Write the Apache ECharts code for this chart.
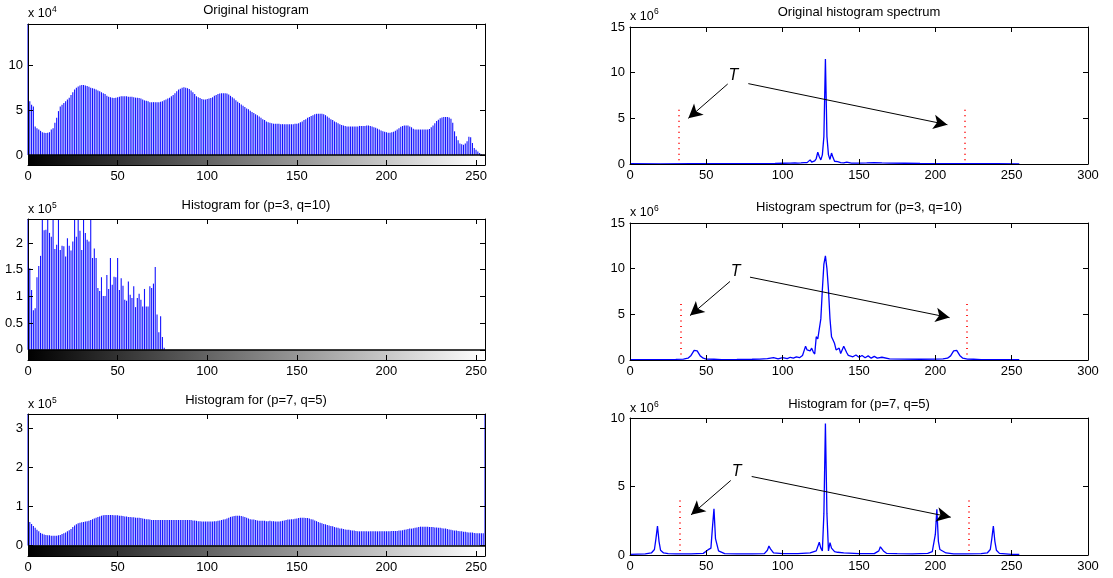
<!DOCTYPE html>
<html>
<head>
<meta charset="utf-8">
<title>Histograms and spectra</title>
<script src="https://cdn.jsdelivr.net/npm/echarts@6/dist/echarts.min.js"></script>
<style>
  html, body { margin: 0; padding: 0; background: #fff; }
  #chart { width: 1113px; height: 578px; }
</style>
</head>
<body>
<div id="chart"></div>
<script>
// ---- tick labels ----
var histXTicks = [0, 50, 100, 150, 200, 250];
var specXTicks = [0, 50, 100, 150, 200, 250, 300];
var hist1YTicks = [0, 5, 10];
var hist2YTicks = [0, 0.5, 1, 1.5, 2];
var hist3YTicks = [0, 1, 2, 3];
var spec1YTicks = [0, 5, 10, 15];
var spec2YTicks = [0, 5, 10, 15];
var spec3YTicks = [0, 5, 10];

// ---- histogram counts, one value per grey level (x 10^4) ----
var hist1 = [
  15, 6.0, 5.6, 5.4, 3.2, 3.0, 2.85, 2.7, 2.55, 2.5, 2.45, 2.5, 2.55, 2.85, 3.0, 3.6,
  4.15, 4.9, 5.4, 5.6, 5.8, 6.0, 6.2, 6.4, 6.7, 7.0, 7.3, 7.5, 7.65, 7.75, 7.8, 7.8,
  7.75, 7.7, 7.6, 7.5, 7.45, 7.4, 7.3, 7.2, 7.1, 7.0, 6.9, 6.8, 6.6, 6.5, 6.45, 6.4,
  6.35, 6.4, 6.45, 6.5, 6.55, 6.55, 6.55, 6.55, 6.5, 6.5, 6.5, 6.45, 6.4, 6.4, 6.35, 6.3,
  6.2, 6.1, 6.05, 6.0, 5.9, 5.9, 5.9, 5.9, 5.9, 5.9, 5.95, 6.0, 6.1, 6.2, 6.3, 6.4,
  6.55, 6.7, 6.9, 7.1, 7.3, 7.4, 7.5, 7.55, 7.5, 7.45, 7.35, 7.2, 7.0, 6.8, 6.55, 6.45,
  6.35, 6.25, 6.2, 6.2, 6.25, 6.3, 6.35, 6.45, 6.6, 6.7, 6.8, 6.85, 6.9, 6.9, 6.9, 6.85,
  6.75, 6.6, 6.45, 6.3, 6.1, 5.95, 5.8, 5.65, 5.5, 5.35, 5.2, 5.1, 4.95, 4.8, 4.7, 4.55,
  4.45, 4.3, 4.15, 4.0, 3.9, 3.75, 3.65, 3.6, 3.55, 3.5, 3.5, 3.5, 3.5, 3.45, 3.45, 3.45,
  3.45, 3.45, 3.45, 3.45, 3.45, 3.5, 3.5, 3.55, 3.65, 3.75, 3.9, 4.0, 4.15, 4.25, 4.35, 4.45,
  4.55, 4.6, 4.6, 4.6, 4.6, 4.55, 4.45, 4.3, 4.15, 4.0, 3.9, 3.75, 3.65, 3.55, 3.45, 3.35,
  3.3, 3.25, 3.2, 3.2, 3.2, 3.2, 3.2, 3.2, 3.2, 3.25, 3.25, 3.25, 3.25, 3.3, 3.3, 3.25,
  3.2, 3.1, 3.05, 2.95, 2.85, 2.75, 2.65, 2.6, 2.55, 2.5, 2.5, 2.55, 2.6, 2.7, 2.85, 3.0,
  3.15, 3.25, 3.3, 3.3, 3.3, 3.2, 3.1, 2.95, 2.85, 2.85, 2.85, 2.85, 2.85, 2.85, 2.85, 2.85,
  2.9, 3.1, 3.3, 3.55, 3.8, 3.95, 4.1, 4.2, 4.25, 4.25, 4.25, 4.2, 4.05, 3.6, 2.65, 2.1,
  1.65, 1.3, 1.2, 1.15, 1.3, 1.55, 2.05, 2.0, 1.35, 0.8, 0.6, 0.4, 0.25, 0.1, 0.05, 0
];
// (p=3, q=10), x 10^5, grey levels 0..76 (the rest are empty)
var hist2 = [
  2.6, 1.53, 1.12, 0.74, 0.78, 1.36, 1.57, 1.76, 2.6, 2.24, 2.25, 2.6, 2.19, 2.12, 2.6, 1.89,
  1.97, 2.6, 1.87, 1.95, 1.94, 1.75, 2.09, 1.95, 1.86, 2.03, 2.6, 2.12, 2.6, 2.23, 1.87, 2.6,
  2.19, 2.06, 2.03, 2.6, 1.72, 1.9, 1.72, 1.16, 1.1, 1.36, 1.01, 1.01, 1.4, 1.14, 1.72, 1.22,
  1.37, 1.36, 1.72, 1.12, 1.34, 1.2, 0.94, 0.92, 1.28, 1.03, 0.97, 1.19, 0.8, 0.97, 1.05, 0.94,
  0.81, 1.14, 0.81, 0.81, 1.19, 1.16, 1.24, 1.55, 0.66, 0.33, 0.63, 0.24, 0.04
];
// (p=7, q=5), x 10^5
var hist3 = [
  3.4, 0.6, 0.55, 0.5, 0.45, 0.4, 0.36, 0.32, 0.3, 0.28, 0.27, 0.26, 0.26, 0.25, 0.25, 0.25,
  0.25, 0.26, 0.27, 0.29, 0.31, 0.33, 0.36, 0.39, 0.42, 0.47, 0.51, 0.54, 0.57, 0.58, 0.59, 0.6,
  0.61, 0.62, 0.63, 0.65, 0.67, 0.69, 0.71, 0.73, 0.74, 0.76, 0.77, 0.78, 0.78, 0.78, 0.78, 0.78,
  0.77, 0.77, 0.77, 0.76, 0.76, 0.75, 0.74, 0.74, 0.73, 0.73, 0.72, 0.72, 0.71, 0.71, 0.71, 0.7,
  0.69, 0.68, 0.67, 0.67, 0.66, 0.65, 0.65, 0.65, 0.65, 0.65, 0.65, 0.65, 0.65, 0.65, 0.65, 0.65,
  0.65, 0.65, 0.65, 0.65, 0.65, 0.65, 0.65, 0.65, 0.65, 0.65, 0.65, 0.65, 0.64, 0.64, 0.63, 0.62,
  0.62, 0.61, 0.61, 0.61, 0.61, 0.61, 0.61, 0.61, 0.62, 0.62, 0.63, 0.64, 0.65, 0.66, 0.67, 0.69,
  0.71, 0.73, 0.74, 0.75, 0.76, 0.76, 0.76, 0.75, 0.74, 0.73, 0.71, 0.69, 0.67, 0.66, 0.66, 0.65,
  0.64, 0.63, 0.63, 0.63, 0.63, 0.62, 0.62, 0.63, 0.62, 0.62, 0.61, 0.61, 0.61, 0.62, 0.63, 0.64,
  0.65, 0.66, 0.66, 0.67, 0.67, 0.68, 0.69, 0.7, 0.71, 0.71, 0.71, 0.7, 0.7, 0.69, 0.67, 0.66,
  0.64, 0.62, 0.6, 0.58, 0.57, 0.55, 0.54, 0.52, 0.51, 0.5, 0.49, 0.47, 0.46, 0.45, 0.43, 0.43,
  0.42, 0.41, 0.4, 0.4, 0.39, 0.38, 0.38, 0.37, 0.36, 0.36, 0.36, 0.36, 0.36, 0.36, 0.36, 0.36,
  0.36, 0.36, 0.36, 0.36, 0.36, 0.36, 0.36, 0.36, 0.36, 0.36, 0.36, 0.37, 0.37, 0.37, 0.37, 0.38,
  0.38, 0.39, 0.4, 0.41, 0.42, 0.43, 0.43, 0.44, 0.45, 0.46, 0.47, 0.48, 0.48, 0.48, 0.48, 0.48,
  0.47, 0.47, 0.47, 0.46, 0.46, 0.45, 0.45, 0.44, 0.43, 0.43, 0.42, 0.41, 0.4, 0.39, 0.38, 0.38,
  0.37, 0.36, 0.36, 0.35, 0.35, 0.34, 0.33, 0.33, 0.33, 0.32, 0.31, 0.31, 0.31, 0.31, 0.31, 3.4
];

// ---- spectra, [frequency, magnitude x 10^6] ----
var spec1 = [
  [0, 0.03], [20, 0.02], [40, 0.03], [60, 0.03], [80, 0.05], [95, 0.06], [100, 0.08], [105, 0.1],
  [108, 0.12], [110, 0.1], [112, 0.12], [114, 0.15], [115, 0.25], [116, 0.15], [117, 0.2], [118, 0.45],
  [119, 0.2], [120, 0.25], [121, 0.35], [122, 0.6], [123, 1.3], [124, 0.8], [125, 0.45], [126, 1.0],
  [127, 3.0], [128, 11.5], [129, 3.0], [130, 1.0], [131, 0.5], [132, 1.2], [133, 0.7], [134, 0.3],
  [135, 0.2], [136, 0.25], [137, 0.35], [138, 0.15], [140, 0.12], [142, 0.2], [145, 0.1], [150, 0.1],
  [155, 0.12], [160, 0.15], [165, 0.12], [170, 0.1], [180, 0.08], [190, 0.06], [200, 0.05], [220, 0.04],
  [240, 0.03], [255, 0.02]
];
var spec2 = [
  [0, 0.05], [10, 0.04], [20, 0.05], [30, 0.06], [35, 0.1], [38, 0.2], [40, 0.5], [42, 1.05],
  [43, 1.17], [44, 1.0], [46, 0.45], [48, 0.2], [50, 0.1], [55, 0.08], [60, 0.05], [70, 0.06],
  [80, 0.08], [85, 0.1], [90, 0.15], [94, 0.25], [97, 0.12], [100, 0.25], [103, 0.15], [105, 0.3],
  [107, 0.2], [109, 0.35], [111, 0.25], [113, 0.5], [114, 1.0], [115, 1.5], [116, 1.1], [117, 0.9],
  [118, 1.0], [119, 1.3], [120, 0.9], [121, 0.65], [122, 2.55], [123, 2.3], [124, 2.4], [125, 4.5],
  [126, 7.7], [127, 10.5], [128, 11.4], [129, 10.0], [130, 7.7], [131, 4.5], [132, 2.55], [133, 2.2],
  [134, 1.8], [135, 1.1], [136, 1.0], [137, 1.3], [138, 0.7], [139, 0.9], [140, 1.5], [141, 1.3],
  [142, 0.8], [143, 0.5], [144, 0.4], [146, 0.35], [148, 0.55], [150, 0.3], [152, 0.5], [154, 0.25],
  [156, 0.45], [158, 0.2], [160, 0.4], [162, 0.2], [165, 0.3], [170, 0.12], [180, 0.1], [190, 0.08],
  [200, 0.1], [205, 0.12], [208, 0.2], [210, 0.45], [212, 1.0], [213, 1.17], [214, 1.05], [216, 0.5],
  [218, 0.2], [221, 0.1], [225, 0.08], [230, 0.05], [240, 0.05], [255, 0.04]
];
var spec3 = [
  [0, 0.05], [10, 0.08], [14, 0.15], [16, 0.4], [17, 1.2], [18, 2.12], [19, 1.0], [20, 0.35],
  [22, 0.15], [25, 0.1], [30, 0.08], [40, 0.08], [48, 0.12], [51, 0.37], [53, 0.5], [54, 2.0],
  [55, 3.37], [56, 1.2], [58, 0.3], [62, 0.1], [70, 0.08], [80, 0.08], [88, 0.1], [90, 0.35],
  [91, 0.66], [92, 0.45], [94, 0.15], [100, 0.1], [110, 0.1], [118, 0.15], [122, 0.3], [124, 0.93],
  [125, 0.5], [126, 0.3], [127, 3.0], [128, 9.6], [129, 3.0], [130, 0.3], [131, 0.9], [132, 0.5],
  [134, 0.25], [136, 0.2], [140, 0.15], [150, 0.1], [160, 0.1], [163, 0.3], [164, 0.6], [165, 0.66],
  [166, 0.3], [168, 0.12], [175, 0.1], [185, 0.08], [195, 0.12], [198, 0.25], [199, 0.3], [200, 1.5],
  [201, 3.34], [202, 1.0], [203, 0.4], [204, 0.35], [207, 0.15], [212, 0.08], [220, 0.08], [230, 0.1],
  [234, 0.15], [236, 0.4], [237, 1.2], [238, 2.12], [239, 1.0], [240, 0.35], [242, 0.12], [250, 0.05],
  [255, 0.04]
];

// ---- threshold T and its annotation (data units of each spectrum) ----
var thrLeft = [32, 33.4, 32.8];
var thrRight = [219.5, 220.6, 221.7];
var thrTop = [6.4, 6.2, 4.2];
var thrBottom = [0.4, 0.6, 0.3];
var tLabel = [[67.7, 9.67], [69.2, 9.7], [69.9, 6.09]];
var arrowLeft = [[[64, 8.76], [38.2, 5.0]], [[65.5, 8.6], [39.3, 4.86]], [[66, 5.44], [40, 2.93]]];
var arrowRight = [[[77.5, 8.8], [207.9, 4.3]], [[78.6, 9.07], [209.3, 4.64]], [[79.7, 5.73], [210.1, 2.76]]];

(function () {
    var chart = echarts.init(document.getElementById('chart'));
    var font = '"Liberation Sans", Arial, sans-serif';

    var leftPanels = [
        { data: hist1, yTicks: hist1YTicks, yMin: -1.1, yMax: 14.6, top: 24, height: 141,
          title: 'Original histogram', titleY: 10, exp: '4', expY: 13.7 },
        { data: hist2, yTicks: hist2YTicks, yMin: -0.19, yMax: 2.45, top: 219, height: 141,
          title: 'Histogram for (p=3, q=10)', titleY: 205, exp: '5', expY: 210 },
        { data: hist3, yTicks: hist3YTicks, yMin: -0.27, yMax: 3.36, top: 414, height: 142,
          title: 'Histogram for (p=7, q=5)', titleY: 400.5, exp: '5', expY: 405 }
    ];
    var rightPanels = [
        { data: spec1, yTicks: spec1YTicks, yMax: 15, top: 27, height: 137,
          title: 'Original histogram spectrum', titleY: 12.5, expY: 16.5 },
        { data: spec2, yTicks: spec2YTicks, yMax: 15, top: 223, height: 137,
          title: 'Histogram spectrum for (p=3, q=10)', titleY: 207, expY: 213 },
        { data: spec3, yTicks: spec3YTicks, yMax: 10, top: 418, height: 137,
          title: 'Histogram for (p=7, q=5)', titleY: 404, expY: 409 }
    ];

    var option = {
        animation: false,
        backgroundColor: '#fff',
        grid: [], xAxis: [], yAxis: [], series: [], graphic: []
    };

    var black = '#000';

    // four axes per panel so the box has ticks on every side (like MATLAB)
    function addAxes(gi, xMax, xTicks, yMin, yMax, yTicks) {
        var line = { show: true, onZero: false, lineStyle: { color: black, width: 1 } };
        var tick = function (vals) {
            return { show: true, inside: true, length: 5, customValues: vals, lineStyle: { color: black } };
        };
        var label = function (vals, m) {
            return { show: true, customValues: vals, color: black, fontSize: 13, fontFamily: font, margin: m };
        };
        option.xAxis.push({
            gridIndex: gi, type: 'value', position: 'bottom', min: 0, max: xMax, z: 10,
            axisLine: line, axisTick: tick(xTicks), axisLabel: label(xTicks, 5), splitLine: { show: false }
        });
        option.xAxis.push({
            gridIndex: gi, type: 'value', position: 'top', min: 0, max: xMax, z: 10,
            axisLine: line, axisTick: tick(xTicks), axisLabel: { show: false }, splitLine: { show: false }
        });
        option.yAxis.push({
            gridIndex: gi, type: 'value', position: 'left', min: yMin, max: yMax, z: 10,
            axisLine: line, axisTick: tick(yTicks), axisLabel: label(yTicks, 5), splitLine: { show: false }
        });
        option.yAxis.push({
            gridIndex: gi, type: 'value', position: 'right', min: yMin, max: yMax, z: 10,
            axisLine: line, axisTick: tick(yTicks), axisLabel: { show: false }, splitLine: { show: false }
        });
    }

    function addTexts(x, cx, p, exp) {
        option.graphic.push({
            type: 'text', x: cx, y: p.titleY,
            style: { text: p.title, fill: black, font: '13px ' + font, align: 'center', verticalAlign: 'middle' }
        });
        option.graphic.push({
            type: 'text', x: x, y: p.expY,
            style: { text: 'x 10', fill: black, font: '12.5px ' + font, align: 'left', verticalAlign: 'middle' }
        });
        option.graphic.push({
            type: 'text', x: x + 24, y: p.expY - 4.5,
            style: { text: exp, fill: black, font: '8.5px ' + font, align: 'left', verticalAlign: 'middle' }
        });
    }

    // grey ramp drawn under the zero line of each histogram
    function renderColorbar(params, api) {
        var lt = api.coord([api.value(0), api.value(3)]);
        var rb = api.coord([api.value(1), api.value(2)]);
        return {
            type: 'rect',
            shape: { x: lt[0], y: lt[1], width: rb[0] - lt[0], height: rb[1] - lt[1] },
            style: {
                fill: new echarts.graphic.LinearGradient(0, 0, 1, 0, [
                    { offset: 0, color: '#000' }, { offset: 1, color: '#fff' }
                ])
            }
        };
    }

    // 左列：直方图
    leftPanels.forEach(function (p, i) {
        var gi = option.grid.length;
        option.grid.push({ left: 28, top: p.top, width: 457, height: p.height });
        addAxes(gi, 255, histXTicks, p.yMin, p.yMax, p.yTicks);
        addTexts(28, 256, p, p.exp);
        option.series.push({
            type: 'custom', xAxisIndex: gi * 2, yAxisIndex: gi * 2,
            renderItem: renderColorbar, silent: true,
            data: [[0, 255, p.yMin, 0]]
        });
        option.series.push({
            type: 'bar', xAxisIndex: gi * 2, yAxisIndex: gi * 2,
            barWidth: 1.1, clip: true,
            itemStyle: { color: '#1414ff' },
            data: p.data.map(function (v, k) { return [k, v]; }),
            markLine: {
                silent: true, symbol: 'none', label: { show: false },
                lineStyle: { color: black, width: 1.5, type: 'solid' },
                data: [{ yAxis: 0 }]
            }
        });
    });

    // 右列：频谱
    rightPanels.forEach(function (p, k) {
        var gi = option.grid.length;
        option.grid.push({ left: 630, top: p.top, width: 458, height: p.height });
        addAxes(gi, 300, specXTicks, 0, p.yMax, p.yTicks);
        addTexts(630, 859, p, '6');

        var dotted = { color: '#ff2a2a', width: 2, type: [1, 4.5] };
        var arrow = { color: black, width: 1, type: 'solid' };
        option.series.push({
            type: 'line', xAxisIndex: gi * 2, yAxisIndex: gi * 2,
            showSymbol: false, clip: true,
            lineStyle: { color: '#0000ff', width: 1.3 },
            data: p.data,
            markLine: {
                silent: true, symbol: ['none', 'none'], label: { show: false },
                data: [
                    [{ coord: [thrLeft[k], thrBottom[k]], lineStyle: dotted }, { coord: [thrLeft[k], thrTop[k]] }],
                    [{ coord: [thrRight[k], thrBottom[k]], lineStyle: dotted }, { coord: [thrRight[k], thrTop[k]] }],
                    [{ coord: arrowLeft[k][0], lineStyle: arrow, symbol: 'none' },
                     { coord: arrowLeft[k][1], symbol: 'arrow', symbolSize: [11, 14] }],
                    [{ coord: arrowRight[k][0], lineStyle: arrow, symbol: 'none' },
                     { coord: arrowRight[k][1], symbol: 'arrow', symbolSize: [11, 14] }]
                ]
            },
            markPoint: {
                silent: true, symbol: 'rect', symbolSize: 1,
                itemStyle: { color: 'rgba(0,0,0,0)' },
                label: {
                    show: true, position: 'inside', formatter: 'T', color: black,
                    fontStyle: 'italic', fontSize: 16, fontFamily: font
                },
                data: [{ coord: tLabel[k] }]
            }
        });
    });

    chart.setOption(option);

    window.addEventListener('resize', function () {
        chart.resize();
    });
})();
</script>
</body>
</html>
